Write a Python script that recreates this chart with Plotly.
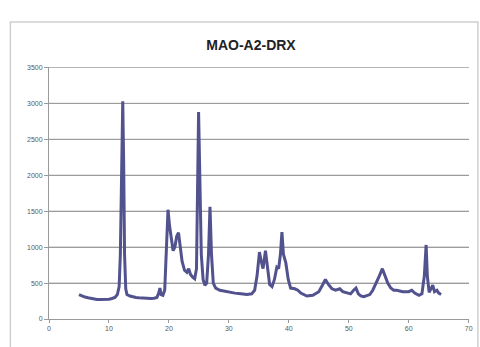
import plotly.graph_objects as go

title_text = "MAO-A2-DRX"

two_theta = [5.0, 5.5, 6.0, 6.5, 7.0, 7.5, 8.0, 8.5, 9.0, 9.5, 10.0, 10.5, 11.0, 11.4, 11.7, 11.9, 12.1, 12.3, 12.45, 12.6,
             12.8, 13.0, 13.5, 14.0, 14.5, 15.0, 15.5, 16.0, 16.5, 17.0, 17.5, 18.0, 18.3, 18.5, 18.7, 19.0, 19.3, 19.6, 19.85, 20.1,
             20.4, 20.7, 21.0, 21.3, 21.6, 21.9, 22.2, 22.6, 23.0, 23.3, 23.6, 24.0, 24.3, 24.6, 24.8, 24.95, 25.15, 25.4, 25.7, 26.0,
             26.3, 26.6, 26.85, 27.1, 27.4, 27.8, 28.5, 29.0, 30.0, 31.0, 32.0, 33.0, 33.8, 34.3, 34.7, 35.1, 35.4, 35.7, 36.1, 36.4,
             36.8, 37.2, 37.6, 38.0, 38.3, 38.6, 38.85, 39.1, 39.5, 39.9, 40.3, 41.0, 41.5, 42.0, 43.0, 44.0, 45.0, 45.6, 46.1, 46.6,
             47.2, 47.8, 48.5, 49.0, 49.7, 50.3, 50.8, 51.2, 51.6, 52.0, 52.5, 53.0, 53.5, 54.0, 54.6, 55.1, 55.6, 56.0, 56.5, 57.0,
             57.5, 58.0, 59.0, 60.0, 60.5, 61.0, 61.7, 62.2, 62.6, 62.9, 63.1, 63.4, 63.7, 64.0, 64.3, 64.7, 65.0, 65.4]

intensity = [340, 320, 305, 295, 285, 278, 272, 270, 270, 272, 275, 285, 300, 340, 450, 900, 2000, 3030, 2200, 900,
             420, 340, 320, 305, 300, 295, 290, 288, 285, 285, 290, 300, 360, 430, 340, 330, 400, 900, 1520, 1300,
             1150, 950, 1000, 1150, 1200, 1000, 800, 680, 650, 700, 620, 580, 560, 700, 1800, 2880, 2000, 900, 550, 470,
             500, 900, 1560, 900, 500, 430, 400, 390, 370, 360, 350, 340, 350, 400, 600, 930, 800, 700, 950, 750,
             480, 450, 550, 720, 700, 900, 1210, 900, 780, 550, 430, 420, 400, 360, 320, 330, 380, 470, 550, 480,
             420, 400, 420, 380, 360, 350, 400, 430, 350, 320, 310, 320, 340, 400, 500, 600, 700, 620, 500, 430,
             400, 400, 380, 380, 400, 360, 330, 350, 600, 1030, 600, 370, 420, 470, 380, 400, 360, 340]

x_ticks = [0, 10, 20, 30, 40, 50, 60, 70]
y_ticks = [0, 500, 1000, 1500, 2000, 2500, 3000, 3500]

L, R, T, B = 49, 473, 67, 319
W, H = 480, 347

fig = go.Figure()
fig.add_trace(go.Scatter(x=two_theta, y=intensity, mode="lines",
                         line=dict(color="#52528f", width=3), showlegend=False))

fig.update_layout(
    width=W, height=H,
    margin=dict(l=L, r=W - R, t=T, b=H - B),
    paper_bgcolor="white", plot_bgcolor="white",
    title=dict(text="<b>" + title_text + "</b>", x=251 / W, xanchor="center",
               y=1 - 45 / H, yanchor="middle",
               font=dict(family="Liberation Sans, Arial", size=14, color="#222222")),
    xaxis=dict(range=[0, 70.05], tickmode="linear", tick0=0, dtick=10,
               showgrid=False, zeroline=False, showline=True, linecolor="#9a9a9a", linewidth=1,
               ticks="outside", ticklen=3, tickcolor="#9a9a9a", ticklabeloverflow="allow",
               tickfont=dict(family="Liberation Sans, Arial", size=7, color="#595959")),
    yaxis=dict(range=[0, 3505], tickmode="linear", tick0=0, dtick=500,
               showgrid=True, gridcolor="#9c9c9c", gridwidth=1, zeroline=False,
               showline=True, linecolor="#9a9a9a", linewidth=1,
               ticks="outside", ticklen=4, tickcolor="#9a9a9a",
               tickfont=dict(family="Liberation Sans, Arial", size=7, color="#595959")),
    shapes=[dict(type="line", xref="paper", yref="y", x0=0, x1=1, y0=v, y1=v,
                 line=dict(color="#a8a8a8", width=1), layer="below") for v in y_ticks[1:]] +
           [dict(type="rect", xref="paper", yref="paper",
                 x0=(10 - L) / (R - L), x1=(482 - L) / (R - L),
                 y0=(B - 352) / (B - T), y1=(B - 22) / (B - T),
                 line=dict(color="#cfcfcf", width=1.5), fillcolor="rgba(0,0,0,0)", layer="above")],
)

fig.write_html("out.html", config={"displayModeBar": False},
               post_script="document.body.style.margin='0';document.body.style.overflow='hidden';")
